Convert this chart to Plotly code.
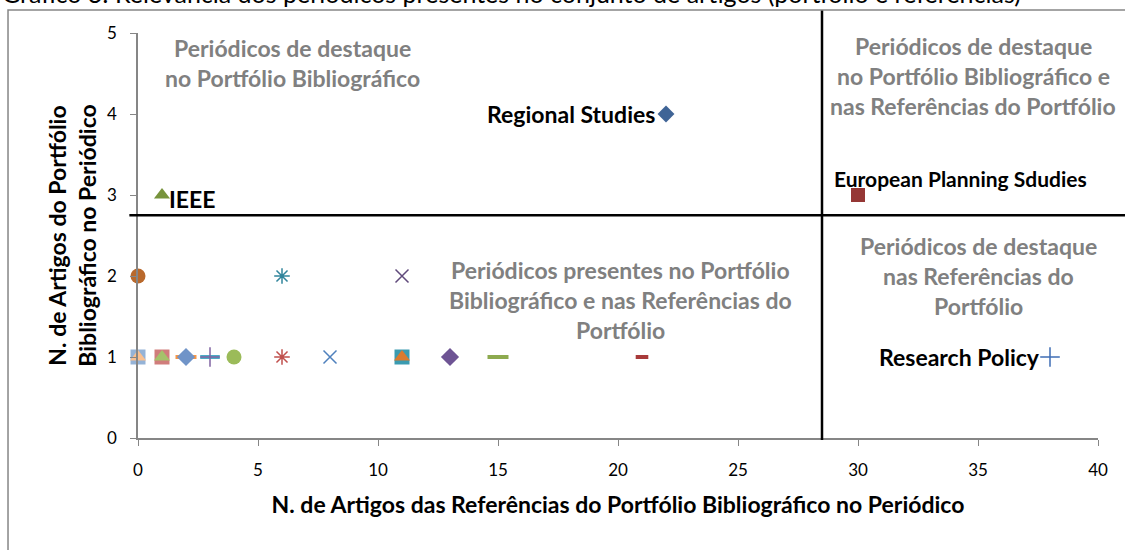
import plotly.graph_objects as go

# journals (one Excel series each) and their counts
journals = ["Regional Studies", "European Planning Sdudies", "IEEE", "Research Policy",
            "j05", "j06", "j07", "j08", "j09", "j10", "j11", "j12", "j13", "j14",
            "j15", "j16", "j17", "j18", "j19", "j20", "j21", "j22", "j23"]
refs_count = [22, 30, 1, 38, 0, 6, 11, 0, 0, 1, 1, 2, 2, 3, 3, 4, 6, 8, 11, 11, 13, 15, 21]
portfolio_count = [4, 3, 3, 1, 2, 2, 2, 1, 1, 1, 1, 1, 1, 1, 1, 1, 1, 1, 1, 1, 1, 1, 1]

labelled = ["Regional Studies", "European Planning Sdudies", "IEEE", "Research Policy"]

x_ticks = [0, 5, 10, 15, 20, 25, 30, 35, 40]
y_ticks = [0, 1, 2, 3, 4, 5]

# style per series: symbol, colour, size, line width
styles = [
    ("diamond", "#3F6496", 13, 0),
    ("square", "#953735", 14, 0),
    ("triangle-up", "#77933C", 14, 0),
    ("cross-thin-open", "#3F6EB5", 14, 1.5),
    ("circle", "#B9692C", 15, 0),
    ("asterisk-open", "#31859C", 13, 1.5),
    ("x-thin-open", "#604A7B", 13, 1.5),
    ("square", "#95B3D7", 15, 0),
    ("triangle-up", "#FAC090", 14, 0),
    ("square", "#D07D7B", 15, 0),
    ("triangle-up", "#A5C26A", 14, 0),
    ("line-ew-open", "#F79646", 15, 4),
    ("diamond", "#7094C8", 14, 0),
    ("line-ew-open", "#4BACC6", 14, 4),
    ("cross-thin-open", "#8064A2", 14, 1.5),
    ("circle", "#9BBB59", 15, 0),
    ("asterisk-open", "#C0504D", 13, 1.5),
    ("x-thin-open", "#4F81BD", 13, 1.5),
    ("square", "#3A9BB0", 15, 0),
    ("triangle-up", "#D97A2F", 14, 0),
    ("diamond", "#6E5494", 14, 0),
    ("line-ew-open", "#8DAA4F", 15, 4),
    ("line-ew-open", "#A83A3A", 9, 4),
]

FONT = "Lato, Carlito, Calibri, sans-serif"
GREY_TXT = "#808080"
AXIS = "#868686"
FS = 23

fig = go.Figure()
for name, xv, yv, (sym, col, size, lw) in zip(journals, refs_count, portfolio_count, styles):
    fig.add_trace(go.Scatter(
        x=[xv], y=[yv], mode="markers", name=name,
        marker=dict(symbol=sym, color=col, size=size,
                    line=dict(color=col, width=lw)),
        cliponaxis=False,
    ))

# point labels
label_pos = {
    "Regional Studies": dict(xanchor="right", yanchor="middle", xshift=-9, yshift=0, size=FS),
    "European Planning Sdudies": dict(xanchor="center", yanchor="middle", xshift=102, yshift=17, size=21),
    "IEEE": dict(xanchor="left", yanchor="middle", xshift=5, yshift=-4, size=FS),
    "Research Policy": dict(xanchor="right", yanchor="middle", xshift=-8, yshift=0, size=FS),
}
for name in labelled:
    i = journals.index(name)
    pos = dict(label_pos[name])
    fsize = pos.pop("size")
    fig.add_annotation(x=refs_count[i], y=portfolio_count[i], text="<b>%s</b>" % name,
                       showarrow=False, font=dict(family=FONT, size=fsize, color="black"),
                       **pos)

# quadrant captions, one annotation per line to get Excel's line spacing
quadrants = [
    (6.42, 4.63, ["Periódicos de destaque", "no Portfólio Bibliográfico"]),
    (34.8, 4.47, ["Periódicos de destaque", "no Portfólio Bibliográfico e",
                  "nas Referências do Portfólio"]),
    (20.1, 1.70, ["Periódicos presentes no Portfólio", "Bibliográfico e nas Referências do",
                  "Portfólio"]),
    (35.0, 2.00, ["Periódicos de destaque", "nas Referências do", "Portfólio"]),
]
for qx, qy, lines in quadrants:
    n = len(lines)
    for k, line in enumerate(lines):
        fig.add_annotation(x=qx, y=qy, text="<b>%s</b>" % line, showarrow=False,
                           xanchor="center", yanchor="middle",
                           yshift=((n - 1) / 2 - k) * 30,
                           font=dict(family=FONT, size=FS, color=GREY_TXT))

# divider lines
fig.add_shape(type="line", xref="x", yref="paper", x0=28.5, x1=28.5, y0=-0.005, y1=1.057,
              line=dict(color="black", width=2.5))
fig.add_shape(type="line", xref="paper", yref="y", x0=-0.009, x1=1.03, y0=2.75, y1=2.75,
              line=dict(color="black", width=2.5))
# chart frame
fig.add_shape(type="rect", xref="paper", yref="paper", x0=-0.1354, x1=1.04, y0=-0.3, y1=1.0568,
              line=dict(color=AXIS, width=1.5), fillcolor="rgba(0,0,0,0)")

# cut-off caption above the frame
fig.add_annotation(xref="paper", yref="paper", x=-0.1438, y=1.0988, xanchor="left",
                   yanchor="middle", showarrow=False,
                   text="Gráfico 3: Relevância dos periódicos presentes no conjunto de artigos "
                        "(portfólio e referências)",
                   font=dict(family=FONT, size=25, color="black"))

fig.update_xaxes(range=[0, 40], tickvals=x_ticks, showgrid=False, zeroline=False,
                 showline=True, linecolor=AXIS, linewidth=1.5, ticks="outside",
                 ticklen=6, tickcolor=AXIS, tickfont=dict(family=FONT, size=17, color="black"),
                 ticklabelstandoff=10,
                 title=dict(text="<b>N. de Artigos das Referências do Portfólio Bibliográfico no Periódico</b>",
                            font=dict(family=FONT, size=FS, color="black"), standoff=18))
fig.update_yaxes(range=[0, 5], tickvals=y_ticks, showgrid=False, zeroline=False,
                 showline=True, linecolor=AXIS, linewidth=1.5, ticks="outside",
                 ticklen=6, tickcolor=AXIS, tickfont=dict(family=FONT, size=17, color="black"),
                 ticklabelstandoff=10,
                 title=dict(text="<b>N. de Artigos do Portfólio<br>Bibliográfico no Periódico</b>",
                            font=dict(family=FONT, size=FS, color="black"), standoff=4))

fig.update_layout(
    width=1125, height=550,
    margin=dict(l=138, r=27, t=33, b=112),
    paper_bgcolor="white", plot_bgcolor="white",
    showlegend=False,
)

fig.write_html("out.html", config={"displayModeBar": False},
               post_script="document.body.style.margin='0';")
